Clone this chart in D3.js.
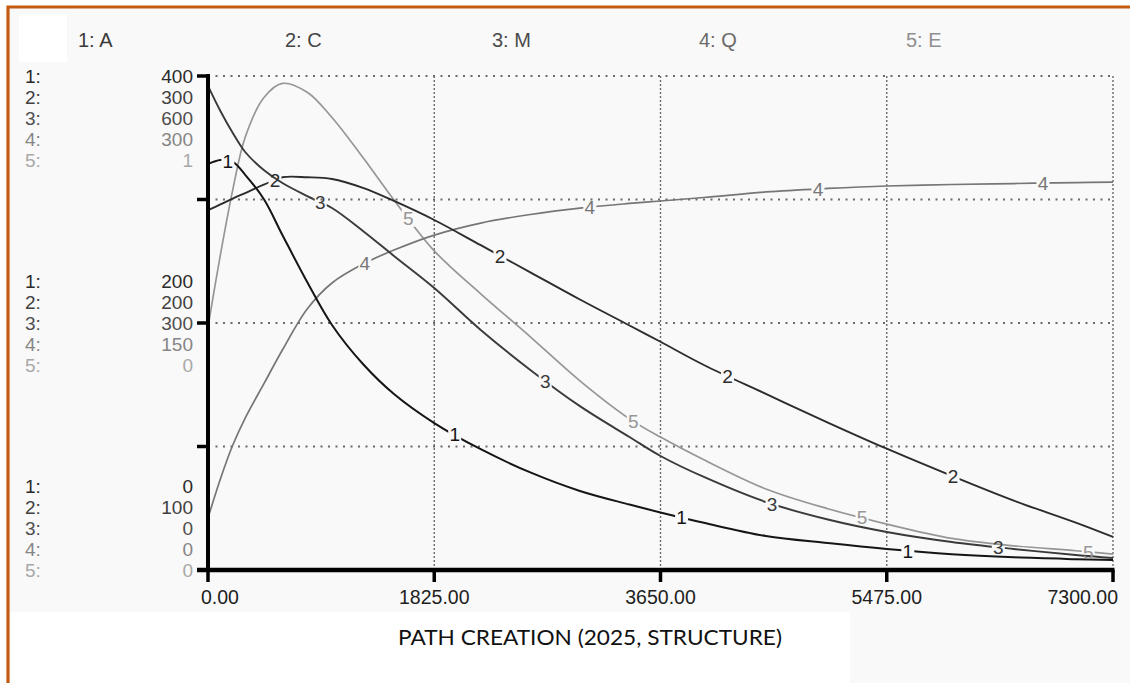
<!DOCTYPE html>
<html>
<head>
<meta charset="utf-8">
<script src="https://cdn.jsdelivr.net/npm/d3@7"></script>
<style>
  html, body { margin: 0; padding: 0; background: #ffffff; }
  svg { display: block; }
</style>
</head>
<body>
<div id="chart"></div>
<script>
// Simulation run: five stocks plotted over 7300 days, each on its own scale
const days = [0, 100, 200, 300, 450, 600, 800, 1000, 1250, 1500, 1825, 2200, 2600,
              3000, 3400, 3650, 4000, 4500, 5000, 5475, 6000, 6500, 7000, 7300];

const valuesA = [328.7, 332, 330.4, 320, 300.4, 271.3, 233.2, 198.4, 166.8, 142.5, 119, 97.8, 79,
                 64, 53, 46.6, 38.2, 27.5, 21.8, 17, 12.8, 10.3, 8.8, 8.1];
const valuesC = [245.7, 248, 250.4, 252.6, 256, 259, 259, 258.3, 254.7, 249.4, 241.7, 231.5, 220.5,
                 209.5, 199, 192.4, 183, 171.3, 159.7, 149.1, 138.1, 128.1, 119.2, 113.4];
const valuesM = [588, 557.5, 530.8, 507.7, 485.8, 470, 454.2, 439.7, 411.8, 381.4, 342.5, 291.5, 243,
                 199, 161.5, 138.5, 113, 82.6, 61.3, 46.2, 34, 25.5, 18.2, 14.6];
const valuesQ = [31.6, 55.3, 75.9, 92.3, 113, 133.6, 158.5, 174.3, 185.8, 194.3, 203.4, 210.7, 215.9,
                 219.8, 222.6, 224.1, 226.2, 229.6, 231.7, 233.2, 234.1, 234.7, 235.3, 235.6];
const valuesE = [0.492, 0.638, 0.770, 0.876, 0.956, 0.985, 0.967, 0.916, 0.835, 0.749, 0.646, 0.559, 0.472,
                 0.383, 0.306, 0.269, 0.223, 0.164, 0.124, 0.093, 0.064, 0.049, 0.039, 0.032];

const seriesNames = ["A", "C", "M", "Q", "E"];
const seriesDomains = [[0, 400], [100, 300], [0, 600], [0, 300], [0, 1]];

// scale readouts printed beside the vertical axis (top, middle, bottom)
const topLabels = ["400", "300", "600", "300", "1"];
const midLabels = ["200", "200", "300", "150", "0"];
const bottomLabels = ["0", "100", "0", "0", "0"];

const xTicks = [0, 1825, 3650, 5475, 7300];

// days at which each curve carries its number
const labelDays = [
  [160, 1990, 3820, 5645],
  [540, 2355, 4190, 6010],
  [905, 2720, 4550, 6375],
  [1265, 3080, 4920, 6735],
  [1615, 3430, 5275, 7100]
];

const chartTitle = "PATH CREATION (2025, STRUCTURE)";

const seriesValues = [valuesA, valuesC, valuesM, valuesQ, valuesE];

// ---- styling ----
const lineColors = ["#151515", "#2c2c2c", "#3a3a3a", "#767676", "#969696"];
const lineWidths = [2, 1.9, 1.9, 1.7, 1.7];
const textColors = ["#2a2a2a", "#404040", "#4e4e4e", "#858585", "#a8a8a8"];
const legendColors = ["#3a3a3a", "#444444", "#4a4a4a", "#6a6a6a", "#8f8f8f"];

const W = 1130, H = 683;
const plot = { left: 208, right: 1113, top: 76, bottom: 570 };
const uiFont = "'Liberation Sans', Arial, sans-serif";

const svg = d3.select("#chart").append("svg")
  .attr("width", W).attr("height", H);

// page background and framing
svg.append("rect").attr("x", 0).attr("y", 0).attr("width", W).attr("height", H).attr("fill", "#ffffff");
svg.append("rect").attr("x", 8).attr("y", 7).attr("width", W).attr("height", H).attr("fill", "#f9f9f9");
svg.append("rect").attr("x", 19).attr("y", 14).attr("width", 48).attr("height", 48).attr("fill", "#ffffff");
svg.append("rect").attr("x", 10).attr("y", 612).attr("width", 840).attr("height", 80).attr("fill", "#ffffff");
svg.append("path")
  .attr("d", `M${W + 5},7 H8 V${H + 5}`)
  .attr("fill", "none").attr("stroke", "#c55a11").attr("stroke-width", 3.2);

const x = d3.scaleLinear().domain([0, 7300]).range([plot.left, plot.right]);
const yScales = seriesDomains.map(d => d3.scaleLinear().domain(d).range([plot.bottom, plot.top]));
const gridY = d3.scaleLinear().domain([0, 4]).range([plot.bottom, plot.top]);

// dotted grid
const grid = svg.append("g");
grid.selectAll("line.h").data([1, 2, 3, 4]).join("line")
  .attr("x1", plot.left).attr("x2", plot.right)
  .attr("y1", d => gridY(d)).attr("y2", d => gridY(d))
  .attr("stroke", "#6a6a6a").attr("stroke-width", 2)
  .attr("stroke-dasharray", "2,5.5");
grid.selectAll("line.v").data(xTicks.slice(1)).join("line")
  .attr("x1", d => x(d)).attr("x2", d => x(d))
  .attr("y1", plot.top).attr("y2", plot.bottom)
  .attr("stroke", "#6a6a6a").attr("stroke-width", 1.4)
  .attr("stroke-dasharray", "2,2");

// value of a series at any day, by linear interpolation between samples
function valueAt(vals, t) {
  const i = Math.max(1, Math.min(days.length - 1, d3.bisectLeft(days, t)));
  const t0 = days[i - 1], t1 = days[i];
  const f = (t - t0) / (t1 - t0);
  return vals[i - 1] + f * (vals[i] - vals[i - 1]);
}

// masks cut a small gap in each curve where its number sits
const defs = svg.append("defs");
const gapW = 13, gapH = 18;
seriesValues.forEach((vals, s) => {
  const m = defs.append("mask").attr("id", "gap" + s).attr("maskUnits", "userSpaceOnUse")
    .attr("x", 0).attr("y", 0).attr("width", W).attr("height", H);
  m.append("rect").attr("x", 0).attr("y", 0).attr("width", W).attr("height", H).attr("fill", "#fff");
  labelDays[s].forEach(t => {
    m.append("rect")
      .attr("x", x(t) - gapW / 2).attr("y", yScales[s](valueAt(vals, t)) - gapH / 2)
      .attr("width", gapW).attr("height", gapH).attr("fill", "#000");
  });
});

// curves, lightest first so darker ones stay on top
const order = [4, 3, 2, 1, 0];
const curves = svg.append("g");
order.forEach(s => {
  const line = d3.line()
    .x((d, i) => x(days[i]))
    .y(d => yScales[s](d))
    .curve(d3.curveCatmullRom.alpha(0.5));
  curves.append("path")
    .datum(seriesValues[s])
    .attr("d", line)
    .attr("fill", "none")
    .attr("stroke", lineColors[s])
    .attr("stroke-width", lineWidths[s])
    .attr("stroke-linejoin", "round")
    .attr("mask", `url(#gap${s})`);
});

// curve numbers
order.forEach(s => {
  curves.selectAll(null).data(labelDays[s]).join("text")
    .attr("x", t => x(t))
    .attr("y", t => yScales[s](valueAt(seriesValues[s], t)))
    .attr("dy", "0.36em")
    .attr("text-anchor", "middle")
    .attr("font-family", uiFont).attr("font-size", 19)
    .attr("fill", lineColors[s])
    .text(String(s + 1));
});

// axes
const axes = svg.append("g");
axes.append("line")
  .attr("x1", plot.left).attr("x2", plot.left)
  .attr("y1", plot.top - 2).attr("y2", plot.bottom)
  .attr("stroke", "#000").attr("stroke-width", 4);
axes.selectAll("line.ytick").data([0, 1, 2, 3, 4]).join("line")
  .attr("x1", plot.left - 11).attr("x2", plot.left)
  .attr("y1", d => gridY(d)).attr("y2", d => gridY(d))
  .attr("stroke", "#000").attr("stroke-width", 3.5);
axes.append("line")
  .attr("x1", plot.left - 11).attr("x2", plot.right + 1.5)
  .attr("y1", plot.bottom).attr("y2", plot.bottom)
  .attr("stroke", "#000").attr("stroke-width", 4.5);
axes.selectAll("line.xtick").data(xTicks).join("line")
  .attr("x1", d => x(d)).attr("x2", d => x(d))
  .attr("y1", plot.bottom).attr("y2", plot.bottom + 12)
  .attr("stroke", "#000").attr("stroke-width", 3.5);

const fmt = d3.format(".2f");
axes.selectAll("text.xl").data(xTicks).join("text")
  .attr("x", (d, i) => i === 0 ? x(d) - 7 : (i === xTicks.length - 1 ? x(d) + 5 : x(d)))
  .attr("y", 597).attr("dy", "0.36em")
  .attr("text-anchor", (d, i) => i === 0 ? "start" : (i === xTicks.length - 1 ? "end" : "middle"))
  .attr("font-family", uiFont).attr("font-size", 19.5)
  .attr("fill", "#1e1e1e")
  .text(d => fmt(d));

// per-series scale readouts on the left
const rowGap = 21;
const groups = [
  { labels: topLabels, center: gridY(4) + 2 * rowGap },
  { labels: midLabels, center: gridY(2) },
  { labels: bottomLabels, center: gridY(0) - 2 * rowGap }
];
groups.forEach(g => {
  g.labels.forEach((txt, s) => {
    const yy = g.center + (s - 2) * rowGap;
    axes.append("text")
      .attr("x", 25).attr("y", yy).attr("dy", "0.36em")
      .attr("font-family", uiFont).attr("font-size", 19)
      .attr("fill", textColors[s])
      .text((s + 1) + ":");
    axes.append("text")
      .attr("x", 193).attr("y", yy).attr("dy", "0.36em")
      .attr("text-anchor", "end")
      .attr("font-family", uiFont).attr("font-size", 19)
      .attr("fill", textColors[s])
      .text(txt);
  });
});

// legend across the top
svg.append("g").selectAll("text").data(seriesNames).join("text")
  .attr("x", (d, i) => 78 + i * 207)
  .attr("y", 40).attr("dy", "0.36em")
  .attr("font-family", uiFont).attr("font-size", 20)
  .attr("fill", (d, i) => legendColors[i])
  .text((d, i) => `${i + 1}: ${d}`);

// title under the time axis
svg.append("text")
  .attr("x", 590).attr("y", 637).attr("dy", "0.36em")
  .attr("text-anchor", "middle")
  .attr("font-family", "Lato, 'Open Sans', sans-serif").attr("font-size", 22)
  .attr("textLength", 384).attr("lengthAdjust", "spacingAndGlyphs")
  .attr("fill", "#111")
  .text(chartTitle);
</script>
</body>
</html>
